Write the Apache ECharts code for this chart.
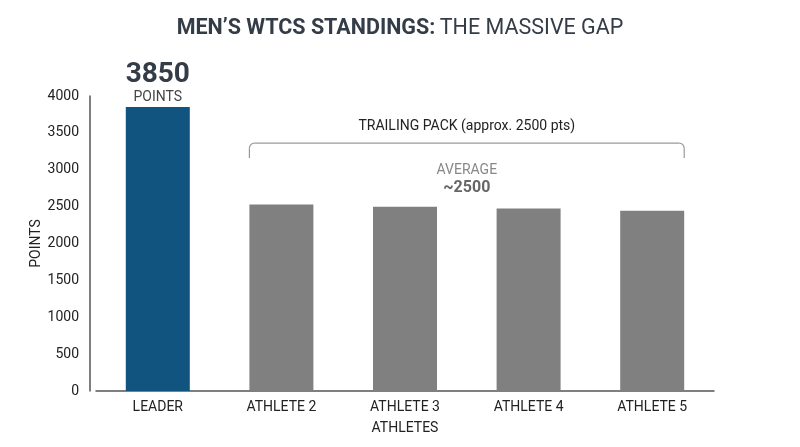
<!DOCTYPE html>
<html>
<head>
<meta charset="utf-8">
<script src="https://cdn.jsdelivr.net/npm/echarts@6/dist/echarts.min.js"></script>
<style>
  html, body { margin: 0; padding: 0; background: #fff; }
  #chart { width: 800px; height: 447px; }
</style>
</head>
<body>
<div id="chart"></div>
<script>
'use strict';

const athletes = ['LEADER', 'ATHLETE 2', 'ATHLETE 3', 'ATHLETE 4', 'ATHLETE 5'];
const points = [3850, 2530, 2500, 2475, 2445];
const barColors = ['#11547f', '#808080', '#808080', '#808080', '#808080'];
const yTicks = { min: 0, max: 4000, interval: 500 };
const packLabel = 'TRAILING PACK (approx. 2500 pts)';
const packAverage = '~2500';

const FONT = 'Roboto, "Noto Sans", sans-serif';
const BAR_W = 64;

const chart = echarts.init(document.getElementById('chart'), null, { renderer: 'canvas' });

chart.setOption({
  backgroundColor: '#fff',
  animation: false,
  textStyle: { fontFamily: FONT },
  title: {
    text: '{b|MEN’S WTCS STANDINGS:} {n|THE MASSIVE GAP}',
    left: 'center',
    top: 13,
    textStyle: {
      rich: {
        b: { fontFamily: FONT, fontSize: 21.5, fontWeight: 'bold', color: '#343d47' },
        n: { fontFamily: FONT, fontSize: 21.5, fontWeight: 'normal', color: '#343d47' },
      },
    },
  },
  grid: { left: 96, right: 86, top: 96, bottom: 56 },
  xAxis: {
    type: 'category',
    data: athletes,
    name: 'ATHLETES',
    nameLocation: 'middle',
    nameGap: 30,
    nameTextStyle: { color: '#222', fontSize: 14, fontFamily: FONT },
    axisLine: { lineStyle: { color: '#555', width: 1.5 } },
    axisTick: { show: false },
    axisLabel: { color: '#222', fontSize: 14, margin: 9, fontFamily: FONT },
  },
  yAxis: {
    type: 'value',
    min: yTicks.min,
    max: yTicks.max,
    interval: yTicks.interval,
    offset: 6,
    name: 'POINTS',
    nameLocation: 'middle',
    nameGap: 47,
    nameMoveOverlap: false,
    nameTextStyle: { color: '#222', fontSize: 14, fontFamily: FONT },
    axisLine: { show: true, lineStyle: { color: '#555', width: 1.5 } },
    axisTick: { show: false },
    splitLine: { show: false },
    axisLabel: { color: '#222', fontSize: 14, margin: 11, fontFamily: FONT, formatter: (v) => String(v) },
  },
  series: [{
    type: 'bar',
    barWidth: BAR_W,
    data: points.map((v, i) => ({
      value: v,
      itemStyle: { color: barColors[i] },
      label: i === 0 ? {
        show: true,
        position: 'top',
        distance: 2,
        formatter: '{a|' + v + '}\n{b|POINTS}',
        rich: {
          a: { fontFamily: FONT, fontSize: 28, fontWeight: 'bold', color: '#343d47', lineHeight: 29 },
          b: { fontFamily: FONT, fontSize: 14, color: '#444', lineHeight: 16 },
        },
      } : { show: false },
    })),
  }],
});

// bracket + notes over the trailing pack, placed through the chart's scales
function drawPack() {
  const px = (i, v) => chart.convertToPixel({ seriesIndex: 0 }, [i, v]);
  const x0 = px(1, 0)[0] - BAR_W / 2;
  const x1 = px(points.length - 1, 0)[0] + BAR_W / 2;
  const yLine = px(1, 3360)[1];
  const yDrop = px(1, 3160)[1];
  const mid = (x0 + x1) / 2;
  const r = 5;
  const st = { stroke: '#9a9a9a', lineWidth: 1.2, fill: null };
  chart.setOption({
    graphic: [
      { type: 'line', shape: { x1: x0, y1: yDrop, x2: x0, y2: yLine + r }, style: st },
      { type: 'arc', shape: { cx: x0 + r, cy: yLine + r, r: r, startAngle: Math.PI, endAngle: Math.PI * 1.5, clockwise: true }, style: st },
      { type: 'line', shape: { x1: x0 + r, y1: yLine, x2: x1 - r, y2: yLine }, style: st },
      { type: 'arc', shape: { cx: x1 - r, cy: yLine + r, r: r, startAngle: Math.PI * 1.5, endAngle: Math.PI * 2, clockwise: true }, style: st },
      { type: 'line', shape: { x1: x1, y1: yLine + r, x2: x1, y2: yDrop }, style: st },
      {
        type: 'text', x: mid, y: px(1, 3590)[1],
        style: { text: packLabel, fill: '#222', font: '14px ' + FONT, textAlign: 'center', textVerticalAlign: 'middle' },
      },
      {
        type: 'text', x: mid, y: px(1, 2990)[1],
        style: { text: 'AVERAGE', fill: '#888', font: '14px ' + FONT, textAlign: 'center', textVerticalAlign: 'middle' },
      },
      {
        type: 'text', x: mid, y: px(1, 2750)[1],
        style: { text: packAverage, fill: '#666', font: 'bold 16px ' + FONT, textAlign: 'center', textVerticalAlign: 'middle' },
      },
    ],
  });
}
drawPack();
window.addEventListener('resize', () => { chart.resize(); drawPack(); });
</script>
</body>
</html>
